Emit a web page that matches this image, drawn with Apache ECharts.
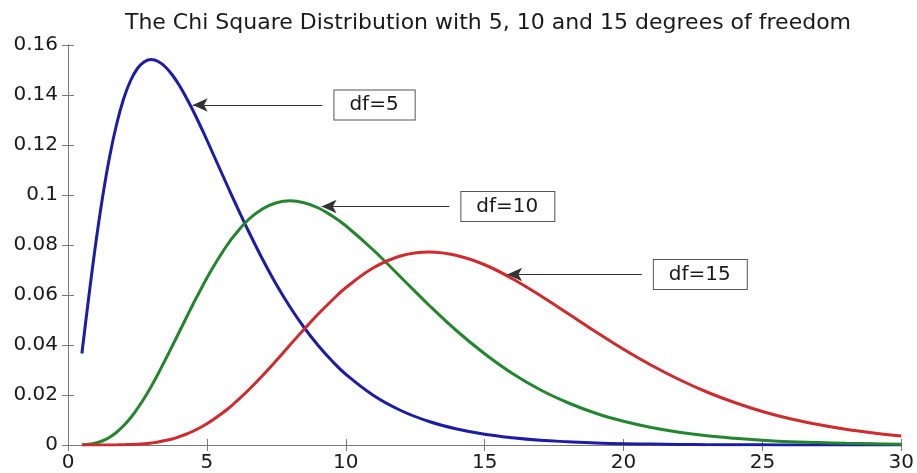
<!DOCTYPE html>
<html><head><meta charset="utf-8">
<script src="https://cdn.jsdelivr.net/npm/echarts@6/dist/echarts.min.js"></script>
<style>html,body{margin:0;padding:0;background:#fff}#c{width:917px;height:473px}</style>
</head><body><div id="c"></div>
<script>
var titleText = 'The Chi Square Distribution with 5, 10 and 15 degrees of freedom';
var xs = [0.5,0.75,1,1.25,1.5,1.75,2,2.25,2.5,2.75,3,3.25,3.5,3.75,4,4.25,4.5,4.75,5,5.25,5.5,5.75,6,
          6.5,7,7.5,8,8.5,9,9.5,10,11,12,13,14,15,16,17,18,19,20,21,22,23,24,25,26,27,28,29,30];
var df5 = [0.0366,0.0594,0.0807,0.0995,0.1154,0.1283,0.1384,0.1457,0.1506,0.1533,0.1542,0.1534,0.1513,0.1481,0.1440,0.1391,0.1338,0.1280,0.1220,0.1158,0.1096,0.1034,0.0973,
           0.0855,0.0744,0.0642,0.0551,0.0470,0.0399,0.0337,0.0283,0.0198,0.0137,0.0094,0.0064,0.0043,0.0029,0.0019,0.0013,0.0008,0.0005,0.0004,0.0002,0.00015,0.0001,0.00006,0.00004,0.00003,0.00002,0.00001,0.00001];
var df10 = [0.0001,0.0003,0.0008,0.0017,0.0031,0.0051,0.0077,0.0108,0.0146,0.0188,0.0235,0.0286,0.0340,0.0395,0.0451,0.0507,0.0563,0.0616,0.0668,0.0716,0.0761,0.0803,0.0840,
            0.0902,0.0944,0.0969,0.0977,0.0969,0.0949,0.0917,0.0877,0.0779,0.0669,0.0559,0.0456,0.0365,0.0286,0.0221,0.0169,0.0127,0.0095,0.0070,0.0051,0.0037,0.0027,0.0019,0.0013,0.0010,0.0007,0.0005,0.0003];
var df15 = [0.0000,0.0000,0.0000,0.0000,0.0000,0.00005,0.0001,0.0002,0.0003,0.0005,0.0008,0.0012,0.0018,0.0024,0.0033,0.0043,0.0055,0.0069,0.0085,0.0103,0.0123,0.0144,0.0168,
            0.0220,0.0277,0.0338,0.0401,0.0463,0.0523,0.0578,0.0629,0.0709,0.0757,0.0772,0.0758,0.0721,0.0665,0.0598,0.0526,0.0453,0.0383,0.0319,0.0262,0.0212,0.0170,0.0134,0.0105,0.0082,0.0063,0.0048,0.0036];
var seriesNames = ['df=5','df=10','df=15'];
var seriesValues = [df5, df10, df15];
var seriesColors = ['#1c1ca8','#23862f','#cf2a2e'];
// annotation arrows: tip x, tip y, tail x (data units)
var noteTipX = [4.49, 9.13, 15.81];
var noteTipY = [0.136, 0.0954, 0.0682];
var noteTailX = [9.16, 13.73, 20.66];
var xTicks = {min:0, max:30, interval:5};
var yTicks = {min:0, max:0.16, interval:0.02};

var font = 'DejaVu Sans';
var chart = echarts.init(document.getElementById('c'), null, {renderer:'canvas'});
function axisCommon(show){
  return {
    axisLine:{show:true, lineStyle:{color:'#7a7a7a', width:1}},
    axisTick:{show:true, inside:true, length:6, lineStyle:{color:'#7a7a7a'}},
    splitLine:{show:false},
    axisLabel:{show:show, color:'#1a1a1a', fontFamily:font, fontSize:20}
  };
}
var xBottom = Object.assign({type:'value', position:'bottom', min:xTicks.min, max:xTicks.max, interval:xTicks.interval}, axisCommon(true));
xBottom.axisLabel.margin = 8;
var xTop = Object.assign({type:'value', position:'top', min:xTicks.min, max:xTicks.max, interval:xTicks.interval}, axisCommon(false));
var yLeft = Object.assign({type:'value', position:'left', min:yTicks.min, max:yTicks.max, interval:yTicks.interval}, axisCommon(true));
yLeft.axisLabel.margin = 10;
yLeft.axisLabel.formatter = function(v){ return String(Math.round(v*100)/100); };
var yRight = Object.assign({type:'value', position:'right', min:yTicks.min, max:yTicks.max, interval:yTicks.interval}, axisCommon(false));

var series = seriesNames.map(function(name, i){
  return {
    name: name, type:'line', xAxisIndex:0, yAxisIndex:0,
    showSymbol:false, smooth:0.4, z:3,
    lineStyle:{color:seriesColors[i], width:3},
    data: xs.map(function(x, k){ return [x, seriesValues[i][k]]; }),
    markLine:{
      silent:true, animation:false,
      symbol:['none','arrow'], symbolSize:[10,15],
      lineStyle:{color:'#333', width:1, type:'solid'},
      label:{show:true, position:'start', distance:12, formatter:name,
        color:'#1a1a1a', fontFamily:font, fontSize:20,
        backgroundColor:'#fff', borderColor:'#555', borderWidth:1, padding:[5,16,4,15]},
      data:[[{coord:[noteTailX[i], noteTipY[i]]},{coord:[noteTipX[i], noteTipY[i]]}]]
    }
  };
});

chart.setOption({
  animation:false,
  backgroundColor:'#fff',
  title:{text:titleText, left:483, top:7, textAlign:'center',
    textStyle:{fontFamily:font, fontSize:22, fontWeight:'normal', color:'#1a1a1a'}},
  grid:{left:68, right:14, top:45, bottom:27, containLabel:false},
  xAxis:[xBottom, xTop],
  yAxis:[yLeft, yRight],
  series: series
});
</script></body></html>
